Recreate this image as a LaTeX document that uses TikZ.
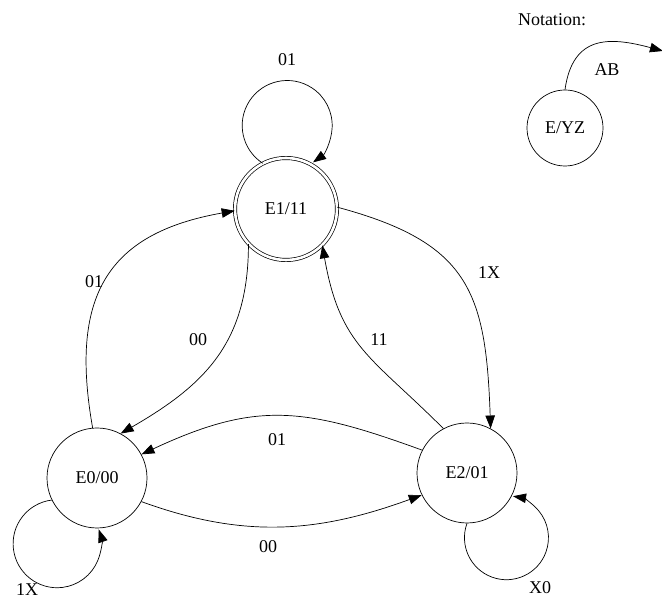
\documentclass[tikz,border=0pt]{standalone}
\usepackage{fontspec}
\setmainfont{Liberation Serif}
\usetikzlibrary{arrows.meta}
\begin{document}
\begin{tikzpicture}[x=1pt,y=1pt,line width=0.7pt,font=\fontsize{18}{20}\selectfont,
  >={Triangle[length=13pt,width=9.5pt]},
  state/.style={circle,draw,minimum size=100pt,inner sep=0pt},
  accept/.style={state,double,double distance=2.6pt,minimum size=102pt},
  lbl/.style={inner sep=1pt}]
\useasboundingbox (0,0) rectangle (662,599);
\node[accept] (E1) at (286,390) {E1/11};
\node[state] (E0) at (97,121) {E0/00};
\node[state] (E2) at (467,126) {E2/01};
\node[state,minimum size=76pt] (N) at (565,471) {E/YZ};
\node[lbl] (nt) at (552,579) {Notation:};
\coordinate (ab) at (663,548);
\draw[->] (N.north) to[out=82,in=165,looseness=1.35] (ab);
\node[lbl] (lAB) at (607,529) {AB};
\draw[->] (E1.117) arc[start angle=237,end angle=-55,radius=45pt];
\draw[->] (E0.206) arc[start angle=97,end angle=379,radius=44pt];
\draw[->] (E2.270) arc[start angle=160,end angle=441,radius=42pt];
\draw[->] (E1.2) to[out=-15,in=92,looseness=1.3] (E2.62);
\draw[->] (E2.118) to[out=135,in=-80,looseness=1.2] (E1.-45);
\draw[->] (E1.223) to[out=-90,in=30,looseness=1.1] (E0.62);
\draw[->] (E0.95) to[out=100,in=190,looseness=1.3] (E1.182);
\draw[->] (E2.153) to[out=160,in=25,looseness=1.15] (E0.28);
\draw[->] (E0.-28) to[out=-20,in=200] (E2.206);
\node[lbl] (l1) at (287,539) {01};
\node[lbl] (l2) at (489,326) {1X};
\node[lbl] (l3) at (379,259) {11};
\node[lbl] (l4) at (198,259) {00};
\node[lbl] (l5) at (94,317) {01};
\node[lbl] (l6) at (277,159) {01};
\node[lbl] (l7) at (268,52) {00};
\node[lbl] (l8) at (27,9) {1X};
\node[lbl] (l9) at (540,11) {X0};
\end{tikzpicture}
\end{document}
